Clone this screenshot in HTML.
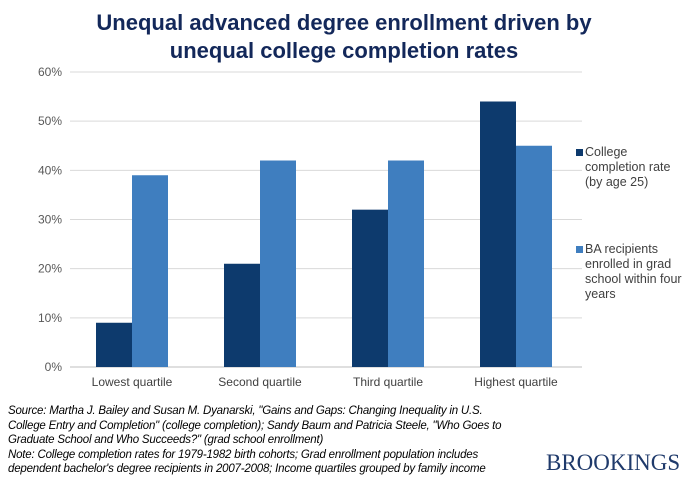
<!DOCTYPE html>
<html><head><meta charset="utf-8"><style>
body{margin:0;background:#fff;font-family:"Liberation Sans",sans-serif}
#wrap{position:relative;width:688px;height:483px;overflow:hidden}
.t{position:absolute;white-space:nowrap}
</style></head><body>
<div id="wrap">
<div class="t" style="left:0;width:688px;top:9px;text-align:center;font-weight:bold;font-size:22px;line-height:28px;color:#13285a">Unequal advanced degree enrollment driven by<br>unequal college completion rates</div>
<svg id="svg" width="688" height="483" style="position:absolute;left:0;top:0"></svg>
<div class="t" style="left:585px;top:145px;font-size:12.5px;line-height:15px;color:#404040">College<br>completion rate<br>(by age 25)</div>
<div class="t" style="left:585px;top:242px;font-size:12.5px;line-height:15px;color:#404040">BA recipients<br>enrolled in grad<br>school within four<br>years</div>
<div class="t" style="left:8px;top:404px;font-size:11.5px;line-height:14.5px;font-style:italic;color:#000;letter-spacing:-0.2px">Source: Martha J. Bailey and Susan M. Dyanarski, "Gains and Gaps: Changing Inequality in U.S.<br>College Entry and Completion" (college completion); Sandy Baum and Patricia Steele, "Who Goes to<br>Graduate School and Who Succeeds?" (grad school enrollment)<br>Note: College completion rates for 1979-1982 birth cohorts; Grad enrollment population includes<br>dependent bachelor's degree recipients in 2007-2008; Income quartiles grouped by family income</div>
<div class="t" style="left:546px;top:450px;font-family:'Liberation Serif',serif;font-size:23px;color:#1f3a6b;letter-spacing:0px">BROOKINGS</div>
</div>
<script>
const categories=["Lowest quartile","Second quartile","Third quartile","Highest quartile"];
const collegeRate=[9,21,32,54];
const gradEnroll=[39,42,42,45];
const yTicks=[0,10,20,30,40,50,60];
const svg=document.getElementById('svg');
const NS='http://www.w3.org/2000/svg';
const x0=68,x1=580,y0=367,yTop=72,yMax=60;
const y=v=>y0-(v/yMax)*(y0-yTop);
const band=(x1-x0)/categories.length;
function mk(tag,attrs){const e=document.createElementNS(NS,tag);for(const k in attrs)e.setAttribute(k,attrs[k]);svg.appendChild(e);return e;}
yTicks.forEach(t=>{
  const l=mk('line',{x1:70,x2:582,y1:y(t),y2:y(t),stroke:t===0?'#bfbfbf':'#d9d9d9','stroke-width':1});
  
  
  const tx=mk('text',{x:62,y:y(t)+4,'text-anchor':'end','font-size':12,fill:'#595959','font-family':'Liberation Sans'});
  tx.textContent=t+'%';
  
  
});
const bw=36;
categories.forEach((c,i)=>{
  const cx=x0+band*(i+0.5);
  const b1=mk('rect',{x:cx-bw,y:y(collegeRate[i]),width:bw,height:y0-y(collegeRate[i]),fill:'#0d3a6d'});
  
  
  const b2=mk('rect',{x:cx,y:y(gradEnroll[i]),width:bw,height:y0-y(gradEnroll[i]),fill:'#3f7ebf'});
  
  
  const tx=mk('text',{x:cx,y:386,'text-anchor':'middle','font-size':12,fill:'#404040','font-family':'Liberation Sans'});
  tx.textContent=c;
  
  
});
const k1=mk('rect',{x:576,y:149,width:7,height:7,fill:'#0d3a6d'});


const k2=mk('rect',{x:576,y:246,width:7,height:7,fill:'#3f7ebf'});


</script>
</body></html>
